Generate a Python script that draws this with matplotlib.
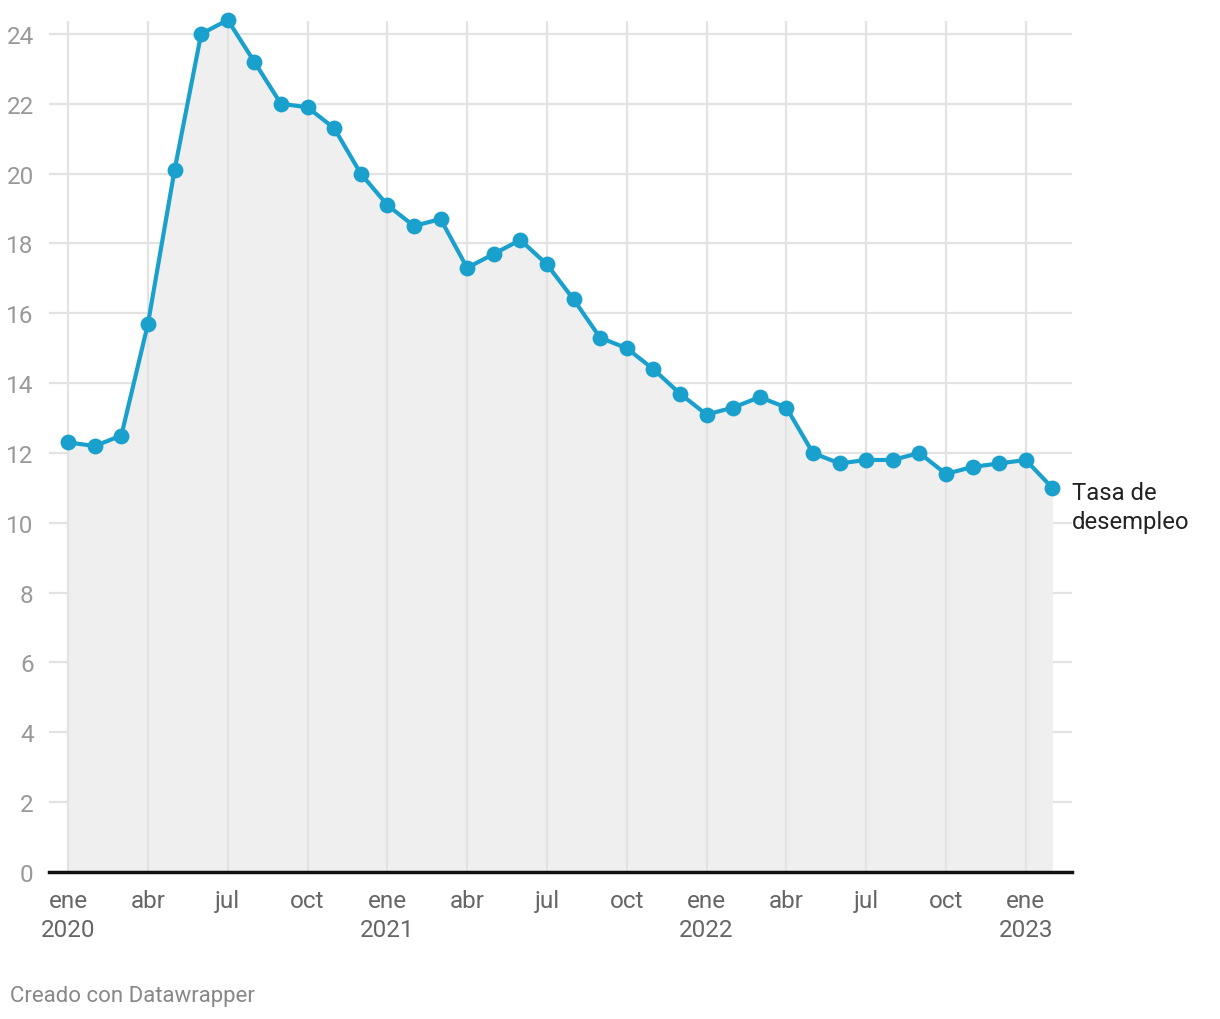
import numpy as np
import matplotlib
matplotlib.use("Agg")
from matplotlib import pyplot as plt

plt.rcParams['font.family'] = ['Roboto', 'DejaVu Sans']

# tasa de desempleo mensual, ene 2020 - feb 2023
meses = np.arange(38)
tasa = [12.3, 12.2, 12.5, 15.7, 20.1, 24.0, 24.4, 23.2, 22.0, 21.9, 21.3, 20.0,
        19.1, 18.5, 18.7, 17.3, 17.7, 18.1, 17.4, 16.4, 15.3, 15.0, 14.4, 13.7,
        13.1, 13.3, 13.6, 13.3, 12.0, 11.7, 11.8, 11.8, 12.0, 11.4, 11.6, 11.7,
        11.8, 11.0]
ticks_x = [0, 3, 6, 9, 12, 15, 18, 21, 24, 27, 30, 33, 36]
etiquetas_x = ['ene\n2020', 'abr', 'jul', 'oct', 'ene\n2021', 'abr', 'jul', 'oct',
               'ene\n2022', 'abr', 'jul', 'oct', 'ene\n2023']
ticks_y = [0, 2, 4, 6, 8, 10, 12, 14, 16, 18, 20, 22, 24]

W, H = 1220, 1020
fig = plt.figure(figsize=(W/100, H/100), dpi=100)
ax = fig.add_axes([49/W, 1-873/H, (1072-49)/W, (873-22)/H])

azul = '#1aa0cc'
ax.fill_between(meses, tasa, 0, color='#efefef', zorder=1, lw=0)
ax.plot(meses, tasa, color=azul, lw=3, zorder=4, clip_on=False)
ax.scatter(meses, tasa, s=130, color=azul, zorder=5, clip_on=False, lw=0)

ax.set_xlim(-0.72, 37.74)
ax.set_ylim(0, 24.37)

for y in ticks_y[1:]:
    ax.axhline(y, color='#e3e3e3', lw=1.6, zorder=0)
for x in ticks_x:
    ax.axvline(x, color='#e3e3e3', lw=1.6, zorder=2)
ax.axhline(0, color='#111111', lw=2.5, zorder=6, clip_on=False)

for s in ax.spines.values():
    s.set_visible(False)

ax.set_xticks(ticks_x)
ax.set_xticklabels(etiquetas_x, fontsize=17.5, color='#666666', linespacing=1.35)
ax.set_yticks(ticks_y)
ax.set_yticklabels([str(v) for v in ticks_y], fontsize=17.5, color='#999999')
for lab in ax.get_yticklabels():
    lab.set_horizontalalignment('right')
ax.tick_params(axis='both', length=0)
ax.tick_params(axis='x', pad=12)
ax.tick_params(axis='y', pad=11)

ax.annotate('Tasa de\ndesempleo', xy=(37.74, tasa[-1]), xytext=(0, -19),
            textcoords='offset pixels', fontsize=17.2, color='#222222',
            ha='left', va='center', linespacing=1.3)

fig.text(10/W, 1-997/H, 'Creado con Datawrapper', fontsize=16,
         color='#888888', ha='left', va='center')

fig.savefig('out.png', dpi=100)
